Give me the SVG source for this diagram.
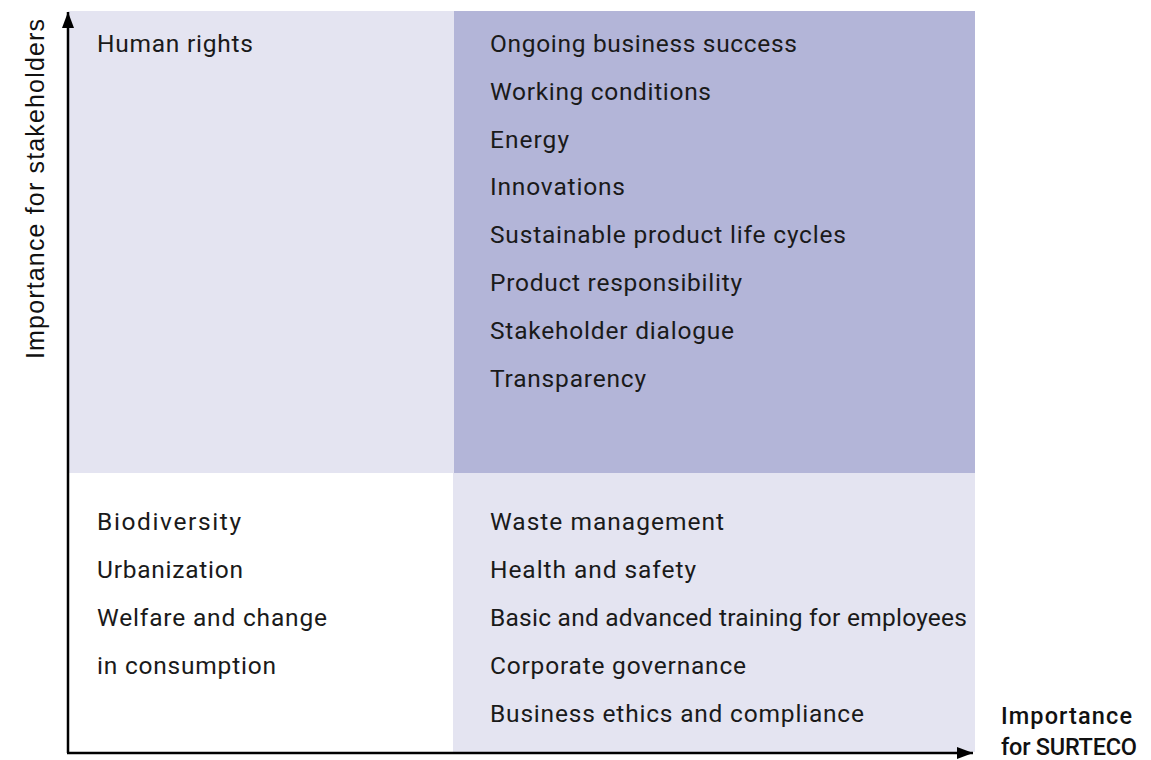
<svg xmlns="http://www.w3.org/2000/svg" width="1151" height="760" viewBox="0 0 1151 760">
<defs>
<style>
.t{font-family:Roboto,"Liberation Sans",sans-serif;font-size:24.5px;fill:#1a1a1a}
.ax{font-family:Roboto,"Liberation Sans",sans-serif;font-size:23.5px;font-weight:500;fill:#111}
.ay{font-family:"Liberation Sans",Arial,sans-serif;font-size:25px;fill:#111}
.axis{stroke:#000;stroke-width:2.5;fill:none}
</style>
<marker id="ah" viewBox="0 0 16 12" refX="16" refY="6" markerWidth="16" markerHeight="12" markerUnits="userSpaceOnUse" orient="auto">
<path d="M0,0 L16,6 L0,12 Z" fill="#000"/>
</marker>
</defs>
<rect width="1151" height="760" fill="#fff"/>
<g id="q-top-left">
<rect x="68" y="11" width="386" height="462" fill="#E4E4F1"/>
<text class="t" x="97" y="52" textLength="156">Human rights</text>
</g>
<g id="q-top-right">
<rect x="454" y="11" width="521" height="462" fill="#B3B5D8"/>
<text class="t" x="490" y="52" textLength="307">Ongoing business success</text>
<text class="t" x="490" y="100" textLength="221">Working conditions</text>
<text class="t" x="490" y="148" textLength="79">Energy</text>
<text class="t" x="490" y="195" textLength="135">Innovations</text>
<text class="t" x="490" y="243" textLength="356">Sustainable product life cycles</text>
<text class="t" x="490" y="291" textLength="252">Product responsibility</text>
<text class="t" x="490" y="339" textLength="244">Stakeholder dialogue</text>
<text class="t" x="490" y="387" textLength="156">Transparency</text>
</g>
<g id="q-bottom-left">
<text class="t" x="97" y="530" textLength="144">Biodiversity</text>
<text class="t" x="97" y="578" textLength="146">Urbanization</text>
<text class="t" x="97" y="626" textLength="230">Welfare and change</text>
<text class="t" x="97" y="674" textLength="179">in consumption</text>
</g>
<g id="q-bottom-right">
<rect x="453" y="473" width="522" height="279" fill="#E4E4F1"/>
<text class="t" x="490" y="530" textLength="234">Waste management</text>
<text class="t" x="490" y="578" textLength="206">Health and safety</text>
<text class="t" x="490" y="626" textLength="477">Basic and advanced training for employees</text>
<text class="t" x="490" y="674" textLength="256">Corporate governance</text>
<text class="t" x="490" y="722" textLength="374">Business ethics and compliance</text>
</g>
<g id="connectors">
<line class="axis" x1="68" y1="753" x2="68" y2="12" marker-end="url(#ah)"/>
<line class="axis" x1="67" y1="753" x2="973" y2="753" marker-end="url(#ah)"/>
</g>
<g id="labels">
<text class="ay" transform="translate(44,189) rotate(-90)" text-anchor="middle" textLength="340">Importance for stakeholders</text>
<text class="ax" x="1001" y="724" textLength="131">Importance</text>
<text class="ax" x="1001" y="755" textLength="136">for SURTECO</text>
</g>
</svg>
